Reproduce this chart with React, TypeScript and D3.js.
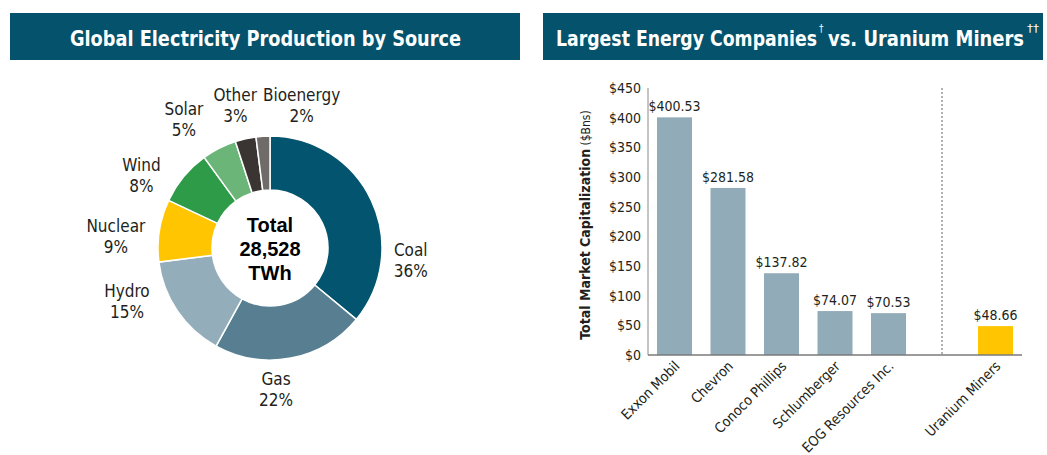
import React from 'react'
import * as d3 from 'd3'

// left panel: electricity mix
const sources = ['Coal', 'Gas', 'Hydro', 'Nuclear', 'Wind', 'Solar', 'Other', 'Bioenergy']
const shares = [36, 22, 15, 9, 8, 5, 3, 2]
const sourceColors = ['#03546E', '#577F91', '#93AEBA', '#FFC500', '#2E9B48', '#6AB577', '#3A3533', '#6F6B68']
const totalLines = ['Total', '28,528', 'TWh']

// right panel: market caps ($Bns)
const companies = ['Exxon Mobil', 'Chevron', 'Conoco Phillips', 'Schlumberger', 'EOG Resources Inc.', 'Uranium Miners']
const marketCaps = [400.53, 281.58, 137.82, 74.07, 70.53, 48.66]
const yTicks = [0, 50, 100, 150, 200, 250, 300, 350, 400, 450]

// hand-placed label nudges off the label arc, like the original
const labelNudge: [number, number][] = [[5, 75], [-22, -7], [-19, -32], [-6, 10], [-13, 22], [-18, 4], [-2, 2], [41, 6]]

const HEAD = '#04526B'
const NARROW = '"DejaVu Sans Condensed", "DejaVu Sans", sans-serif'
const TEXT = '#231F20'

const App = () => {
  const cx = 270, cy = 248
  const pie = d3.pie<number>().sort(null).value(d => d)
  const arcs = pie(shares)
  const arc = d3.arc<d3.PieArcDatum<number>>().innerRadius(58).outerRadius(112)
  const labelArc = d3.arc<d3.PieArcDatum<number>>().innerRadius(150).outerRadius(150)

  const gap = '__gap'
  const domain = [...companies.slice(0, 5), gap, companies[5]]
  const x = d3.scaleBand().domain(domain).range([648, 1022]).paddingInner(0.346).paddingOuter(0.168)
  const y = d3.scaleLinear().domain([0, 450]).range([355, 88])
  const gapX = (x(gap) || 0) + x.bandwidth() / 2

  const head = { fill: '#fff', fontFamily: NARROW, fontWeight: 'bold' as const, fontSize: 22, lengthAdjust: 'spacingAndGlyphs' }

  return (
    <div style={{ position: 'absolute', left: 0, top: 0 }}>
      <svg width={1047} height={455} style={{ display: 'block', background: '#fff' }}>
        {/* headers */}
        <rect x={10} y={13} width={510} height={47} fill={HEAD} />
        <text x={70} y={46} {...head} textLength={391}>Global Electricity Production by Source</text>
        <rect x={543} y={13} width={500} height={47} fill={HEAD} />
        <text x={556} y={46} {...head} textLength={261}>Largest Energy Companies</text>
        <text x={819} y={32} fill="#fff" fontFamily={NARROW} fontSize={10}>†</text>
        <text x={828} y={46} {...head} textLength={196}>vs. Uranium Miners</text>
        <text x={1027} y={32} fill="#fff" fontFamily={NARROW} fontSize={10} textLength={12} lengthAdjust="spacingAndGlyphs">††</text>

        {/* donut */}
        <g transform={`translate(${cx},${cy})`}>
          {arcs.map((a, i) => (
            <path key={sources[i]} d={arc(a) || ''} fill={sourceColors[i]} stroke="#fff" strokeWidth={1.5} />
          ))}
          {arcs.map((a, i) => {
            const [lx, ly] = labelArc.centroid(a)
            const px = lx + labelNudge[i][0], py = ly + labelNudge[i][1]
            return (
              <text key={'l' + i} x={px} y={py} textAnchor="middle" fontFamily={NARROW} fontSize={17} fill={TEXT}>
                <tspan x={px} dy={-3}>{sources[i]}</tspan>
                <tspan x={px} dy={21}>{shares[i]}%</tspan>
              </text>
            )
          })}
          <text textAnchor="middle" fontFamily='"Liberation Sans", Arial, sans-serif' fontWeight="bold" fontSize={20} fill="#000">
            {totalLines.map((t, i) => (
              <tspan key={t} x={0} y={-16 + i * 24}>{t}</tspan>
            ))}
          </text>
        </g>

        {/* bars */}
        <g fontFamily={NARROW} fill={TEXT}>
          {yTicks.map(t => (
            <text key={t} x={641} y={y(t)} dy="0.35em" textAnchor="end" fontSize={14}>${t}</text>
          ))}
          <text transform="translate(590,225) rotate(-90)" textAnchor="middle" fontSize={14}>
            <tspan fontWeight="bold">Total Market Capitalization</tspan>
            <tspan fontSize={12}> ($Bns)</tspan>
          </text>
          <line x1={648} x2={648} y1={88} y2={355} stroke="#8a8a8a" strokeWidth={1} />
          <line x1={gapX} x2={gapX} y1={88} y2={355} stroke="#999" strokeWidth={1.5} strokeDasharray="2,2" />
          {companies.map((c, i) => {
            const bx = x(c) || 0
            const mid = bx + x.bandwidth() / 2
            return (
              <g key={c}>
                <rect x={bx} y={y(marketCaps[i])} width={x.bandwidth()} height={y(0) - y(marketCaps[i])}
                  fill={i === 5 ? '#FFC500' : '#91ACB8'} />
                <text x={mid} y={y(marketCaps[i]) - 6} textAnchor="middle" fontSize={14}>
                  ${marketCaps[i].toFixed(2)}
                </text>
                <text transform={`translate(${mid + 6},${367}) rotate(-45)`} textAnchor="end" fontSize={14}>{c}</text>
              </g>
            )
          })}
          <line x1={648} x2={1022} y1={355} y2={355} stroke="#7a7a7a" strokeWidth={1.5} />
        </g>
      </svg>
    </div>
  )
}

export default App
